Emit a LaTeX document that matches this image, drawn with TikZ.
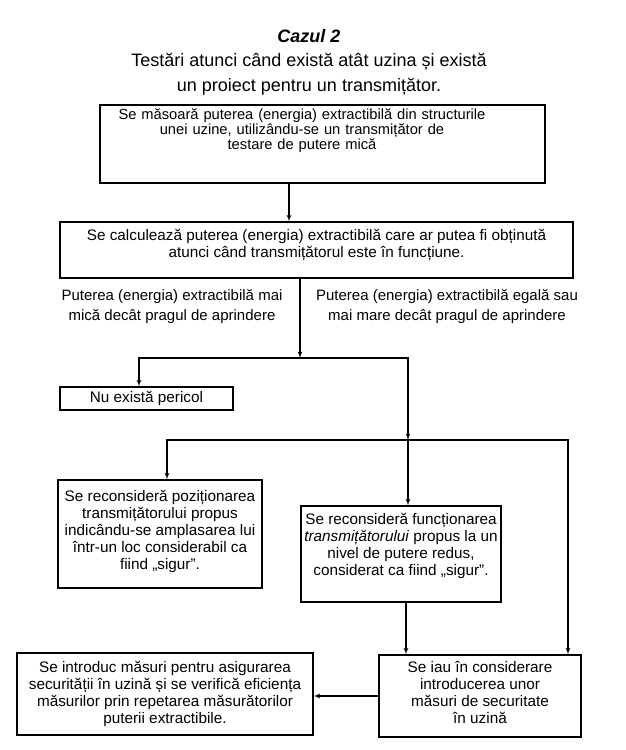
\documentclass[tikz,border=0pt]{standalone}
\usepackage{fontspec}
\setmainfont{Liberation Sans}
\usepackage{tikz}
\usetikzlibrary{positioning,arrows,calc}
\tikzset{
    box/.style = {
        draw,
        shape=rectangle,
        inner sep=0pt,
        align=center,
        line width=1.2pt,
        font=\fontsize{15.3}{17}\selectfont
    },
    note/.style = {
        shape=rectangle,
        align=center,
        font=\fontsize{15}{20}\selectfont
    },
    pushup/.style = {
        execute at end node={\rule[-#1]{0pt}{#1}}
    },
    >=latex',
}

\begin{document}
\begin{tikzpicture}[x=1pt, y=-1pt, line width=1.2pt]
                \useasboundingbox (0,0) rectangle (625,750);

                \node[note, font=\fontsize{18}{24.5}\selectfont] (title) at (309,62)
                {\textbf{\textit{Cazul 2}}\\ Testări atunci când există atât uzina și există\\ un proiect pentru un transmițător.};

                \node[box, minimum width=445, minimum height=78, text width=445,
                font=\fontsize{14.7}{15}\selectfont] (measure) at (322.5,144)
                {\leftskip=0pt plus 1fil\rightskip=41pt plus 1fil\parfillskip=0pt\relax
                Se măsoară puterea (energia) extractibilă din structurile\\ unei uzine, utilizându-se un transmițător de\\ testare de putere mică\rule[-30pt]{0pt}{30pt}\par};
                \node[box, minimum width=513, minimum height=56, pushup=14pt] (calc) at (316.5,250)
                {Se calculează puterea (energia) extractibilă care ar putea fi obținută\\ atunci când transmițătorul este în funcțiune.};

                \node[note] (low) at (172,307) {Puterea (energia) extractibilă mai\\ mică decât pragul de aprindere};
                \node[note] (high) at (447,307) {Puterea (energia) extractibilă egală sau\\ mai mare decât pragul de aprindere};

                \node[box, minimum width=173, minimum height=23] (safe) at (146.5,398.5) {Nu există pericol};

                \node[box, minimum width=204, minimum height=108, pushup=8pt] (move) at (160,534)
                {Se reconsideră poziționarea\\ transmițătorului propus\\ indicându-se amplasarea lui\\ într-un loc considerabil ca\\ fiind „sigur”.};
                \node[box, minimum width=200, minimum height=96, pushup=20pt] (reduce) at (401,554)
                {Se reconsideră funcționarea\\ \textit{transmițătorului} propus la un\\ nivel de putere redus,\\ considerat ca fiind „sigur”.};

                \node[box, minimum width=202, minimum height=82, pushup=8pt] (plant) at (480,696)
                {Se iau în considerare\\ introducerea unor\\ măsuri de securitate\\ în uzină};
                \node[box, minimum width=296, minimum height=82, pushup=4pt] (verify) at (165,694)
                {Se introduc măsuri pentru asigurarea\\ securității în uzină și se verifică eficiența\\ măsurilor prin repetarea măsurătorilor\\ puterii extractibile.};

                \coordinate (split1) at (300,358);
                \coordinate (split2) at (408,440);

                \path[draw, ->] ([xshift=-33.5pt]measure.south) -- ([xshift=-33.5pt]measure.south |- calc.north);
                \path[draw, ->] (calc.south -| split1) -- (split1);
                % below the threshold / above it
                \path[draw, ->] (split1) -| ([xshift=-7.5pt]safe.north);
                \path[draw, ->] (split1) -| (split2);
                \path[draw, ->] (split2) -| ([xshift=7pt]move.north);
                \path[draw, ->] (split2) -- (split2 |- reduce.north);
                \path[draw, ->] (split2) -| ([xshift=88pt]plant.north);
                \path[draw, ->] ([xshift=5pt]reduce.south) -- ([xshift=5pt]reduce.south |- plant.north);
                \path[draw, ->] (plant.west) -- (plant.west -| verify.east);
            \end{tikzpicture}
\end{document}
